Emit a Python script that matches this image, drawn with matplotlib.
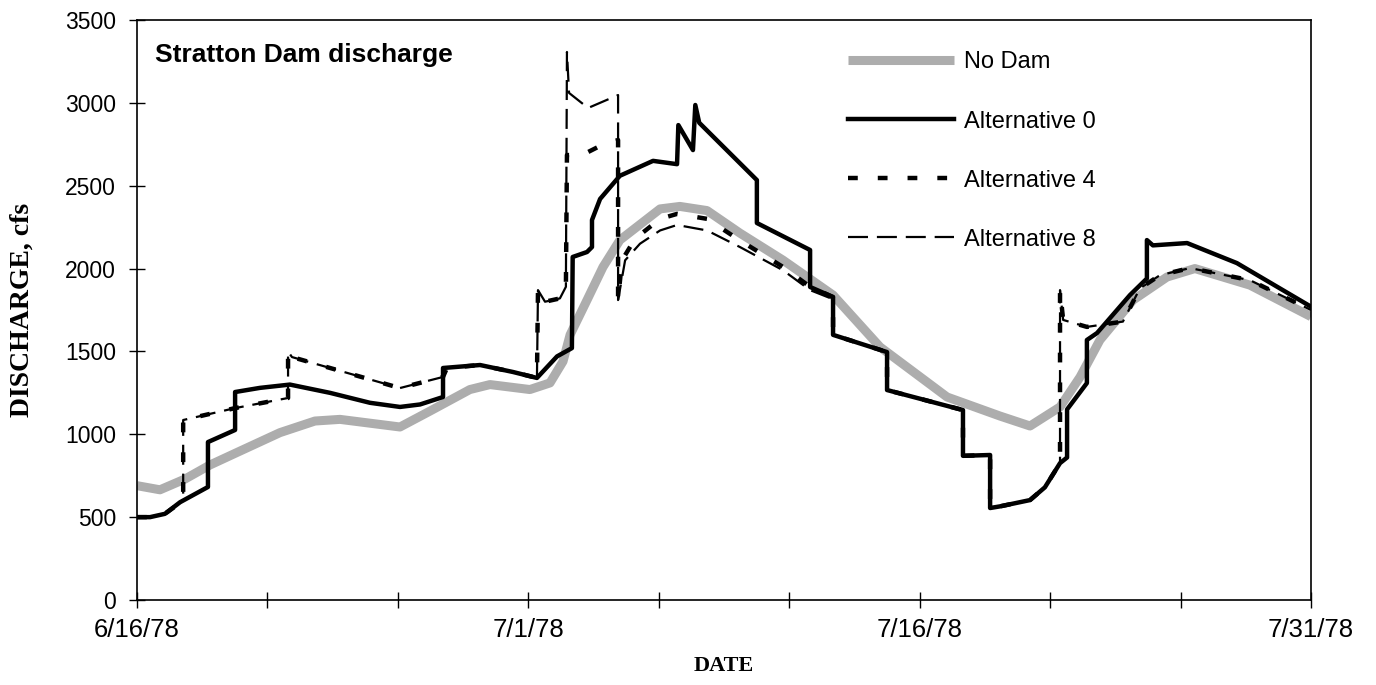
import matplotlib
matplotlib.use("Agg")
import matplotlib.pyplot as plt

plt.rcParams['font.family'] = ['Liberation Sans', 'DejaVu Sans']

# days after 6/16/78
tick_days = [0, 5, 10, 15, 20, 25, 30, 35, 40, 45]
tick_labels = ['6/16/78', '', '', '7/1/78', '', '', '7/16/78', '', '', '7/31/78']

# No Dam
nodam_day = [0.0, 0.88, 1.84, 2.80, 3.76, 5.48, 6.82, 7.78, 10.08, 11.23, 12.76,
             13.53, 15.06, 15.83, 16.33, 16.60, 17.25, 17.86, 18.51, 20.05, 20.81,
             21.85, 23.11, 24.76, 26.68, 28.48, 31.05, 33.08, 34.23, 35.38, 36.15,
             36.91, 38.18, 39.48, 40.55, 42.66, 45.0]
nodam_cfs = [690, 665, 730, 815, 885, 1010, 1080, 1090, 1044, 1140, 1270,
             1300, 1270, 1310, 1440, 1600, 1810, 2009, 2172, 2360, 2375,
             2350, 2214, 2051, 1840, 1527, 1225, 1110, 1050, 1165, 1346,
             1569, 1810, 1949, 2000, 1900, 1710]

# Alternative 0
alt0_day = [0.0, 0.5, 1.07, 1.65, 2.72, 2.72, 3.76, 3.76, 4.71, 5.86, 7.40, 8.93,
            10.08, 10.85, 11.73, 11.73, 13.15, 14.41, 15.33, 16.10, 16.67, 16.70,
            17.25, 17.44, 17.44, 17.75, 18.51, 19.78, 20.70, 20.75, 21.31, 21.40,
            21.55, 23.76, 23.76, 25.80, 25.80, 26.68, 26.68, 28.75, 28.75, 31.66,
            31.66, 32.70, 32.70, 33.08, 34.23, 34.80, 35.38, 35.65, 35.65, 36.41,
            36.41, 36.80, 38.06, 38.71, 38.71, 38.94, 40.25, 42.16, 45.0]
alt0_cfs = [500, 500, 520, 590, 682, 953, 1026, 1255, 1280, 1300, 1250, 1190,
            1165, 1180, 1225, 1400, 1418, 1376, 1340, 1470, 1520, 2070,
            2100, 2130, 2293, 2420, 2560, 2650, 2630, 2866, 2715, 2987,
            2880, 2534, 2275, 2112, 1889, 1828, 1600, 1496, 1267, 1146,
            870, 875, 555, 565, 603, 680, 826, 860, 1150, 1309,
            1569, 1611, 1840, 1940, 2172, 2140, 2154, 2033, 1770]

# Alternative 4
alt4_day = [0.0, 0.5, 1.07, 1.77, 1.77, 3.76, 5.79, 5.79, 5.94, 10.08, 11.73, 11.88,
            13.15, 14.41, 15.33, 15.37, 15.64, 16.21, 16.44, 16.48, 17.06, 17.75,
            18.44, 18.44, 18.59, 19.09, 20.05, 20.70, 21.85, 23.11, 24.76, 25.80,
            26.68, 26.68, 28.75, 28.75, 31.66, 31.66, 32.70, 32.70, 33.08, 34.23,
            34.80, 35.38, 35.38, 35.50, 36.41, 37.79, 38.44, 39.21, 40.36, 42.66, 45.0]
alt4_cfs = [500, 500, 520, 600, 1086, 1158, 1219, 1500, 1466, 1279, 1346, 1400,
            1418, 1376, 1340, 1870, 1800, 1820, 1890, 2685, 2685, 2740,
            2776, 1810, 2050, 2180, 2300, 2330, 2300, 2170, 2010, 1890,
            1828, 1600, 1496, 1267, 1146, 870, 875, 555, 565, 603,
            680, 826, 1870, 1690, 1648, 1680, 1880, 1960, 2003, 1930, 1750]

# Alternative 8
alt8_day = [0.0, 0.5, 1.07, 1.77, 1.77, 3.76, 5.79, 5.79, 5.94, 10.08, 11.73, 11.88,
            13.15, 14.41, 15.33, 15.37, 15.64, 16.21, 16.44, 16.48, 16.56, 17.29,
            18.44, 18.44, 18.71, 19.28, 20.05, 20.70, 21.85, 23.11, 24.76, 25.80,
            26.68, 26.68, 28.75, 28.75, 31.66, 31.66, 32.70, 32.70, 33.08, 34.23,
            34.80, 35.38, 35.38, 35.50, 36.41, 37.79, 38.44, 39.21, 40.36, 42.66, 45.0]
alt8_cfs = [500, 500, 520, 600, 1086, 1158, 1219, 1500, 1466, 1279, 1346, 1400,
            1418, 1376, 1340, 1870, 1800, 1820, 1890, 3307, 3060, 2969,
            3047, 1810, 2050, 2150, 2230, 2263, 2230, 2130, 1990, 1870,
            1815, 1600, 1496, 1267, 1146, 870, 875, 555, 565, 603,
            680, 826, 1870, 1690, 1648, 1680, 1880, 1960, 2003, 1930, 1750]

fig = plt.figure(figsize=(13.76, 6.85), dpi=100)
ax = fig.add_axes([137 / 1376, 85 / 685, 1174 / 1376, 580 / 685])

ax.plot(nodam_day, nodam_cfs, color='#adadad', lw=6.5, solid_capstyle='butt',
        label='No Dam', zorder=2)
ax.plot(alt8_day, alt8_cfs, color='black', lw=1.6, dashes=(9, 4),
        label='Alternative 8', zorder=3)
ax.plot(alt4_day, alt4_cfs, color='black', lw=3.2, dashes=(2.2, 4.5),
        label='Alternative 4', zorder=4)
ax.plot(alt0_day, alt0_cfs, color='black', lw=3.2, label='Alternative 0', zorder=5)

ax.set_xlim(0, 45)
ax.set_ylim(0, 3500)
ax.set_xticks(tick_days)
ax.set_xticklabels(tick_labels)
ax.set_yticks(range(0, 3501, 500))
ax.tick_params(direction='inout', length=12, width=1, colors='black')
ax.tick_params(axis='y', pad=9, labelsize=16.5)
ax.tick_params(axis='x', pad=7, labelsize=18.5)
for s in ax.spines.values():
    s.set_linewidth(1.2)

ax.set_xlabel('DATE', family='Liberation Serif', fontweight='bold', fontsize=16, labelpad=10)
ax.set_ylabel('DISCHARGE, cfs', family='Liberation Serif', fontweight='bold', fontsize=20,
              labelpad=22)

ax.text(0.015, 0.94, 'Stratton Dam discharge', transform=ax.transAxes,
        fontsize=19, fontweight='bold', va='center', ha='left')

handles, labels = ax.get_legend_handles_labels()
order = [labels.index(n) for n in ['No Dam', 'Alternative 0', 'Alternative 4', 'Alternative 8']]
ax.legend([handles[i] for i in order], [labels[i] for i in order],
          loc='upper left', bbox_to_anchor=(0.6056, 0.9457), frameon=False,
          fontsize=17, handlelength=4.5, handletextpad=0.42, labelspacing=1.57,
          borderpad=0, borderaxespad=0)

fig.savefig('out.png', dpi=100)
